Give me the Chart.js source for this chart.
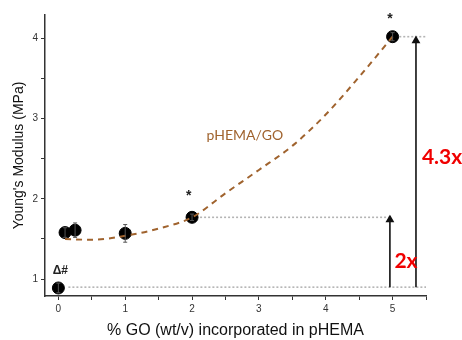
<!DOCTYPE html>
<html>
<head>
<meta charset="utf-8">
<script src="https://cdn.jsdelivr.net/npm/chart.js@4"></script>
<style>
  html, body { margin: 0; padding: 0; background: #fff; }
  #wrap { width: 462px; height: 340px; position: relative; }
</style>
</head>
<body>
<div id="wrap"><canvas id="modulusChart"></canvas></div>
<script>
// Datos medidos
const goPct = [0, 0.1, 0.25, 1, 2, 5];
const modulus = [0.89, 1.58, 1.61, 1.57, 1.77, 4.02];
const modulusErr = [0.06, 0.06, 0.09, 0.11, 0.04, 0.05];

// Curva de ajuste
const fitX = [0.1, 0.5, 1, 1.5, 2, 2.5, 3, 3.5, 4, 4.5, 5];
const fitY = [1.50, 1.49, 1.54, 1.63, 1.77, 2.07, 2.36, 2.66, 3.05, 3.52, 4.02];

// Líneas de referencia y flechas
const baseRefX = [0.15, 5.5];
const baseRefY = [0.9, 0.9];
const midRefX = [2.12, 4.96];
const midRefY = [1.77, 1.77];
const topRefX = [5.1, 5.5];
const topRefY = [4.02, 4.02];
const arrow2X = [4.96, 4.96];
const arrow2Y = [0.9, 1.74];
const arrow43X = [5.35, 5.35];
const arrow43Y = [0.9, 3.97];

// Etiquetas
const yTitle = "Young's Modulus (MPa)";
const notes = [
  { text: 'Δ#', x: 0.03, y: 1.11, color: '#222', font: 'bold 12px "Liberation Sans"' },
  { text: '*', x: 1.95, y: 2.03, color: '#222', font: 'bold 14px "Liberation Sans"' },
  { text: '*', x: 4.96, y: 4.24, color: '#222', font: 'bold 14px "Liberation Sans"' },
  { text: 'pHEMA/GO', x: 2.79, y: 2.79, color: '#a0632e', font: '14px Lato' },
  { text: '2x', x: 5.2, y: 1.22, color: '#f00000', font: 'bold 21px Lato' },
  { text: '4.3x', x: 5.74, y: 2.52, color: '#f00000', font: 'bold 21px Lato' }
];

const xTicks = [0, 0.5, 1, 1.5, 2, 2.5, 3, 3.5, 4, 4.5, 5, 5.5];
const yTicks = [1, 1.5, 2, 2.5, 3, 3.5, 4];

const toPts = (xs, ys) => xs.map((x, i) => ({ x, y: ys[i] }));

const refStyle = {
  type: 'line', borderColor: '#b4b4b4', borderWidth: 1.6, borderDash: [2, 2],
  pointRadius: 0, fill: false, order: 5
};

function arrowSet(xs, ys) {
  return {
    type: 'line',
    data: toPts(xs, ys),
    borderColor: '#111',
    borderWidth: 1.6,
    pointStyle: 'triangle',
    pointRadius: ctx => (ctx.dataIndex === 1 ? 3.5 : 0),
    pointBackgroundColor: '#111',
    pointBorderColor: '#111',
    fill: false,
    order: 4
  };
}

// Barras de error, textos y título del eje Y
const extrasPlugin = {
  id: 'extras',
  afterDatasetsDraw(chart) {
    const { ctx, chartArea, scales: { x, y } } = chart;
    ctx.save();
    ctx.strokeStyle = '#555';
    ctx.lineWidth = 1;
    goPct.forEach((gx, i) => {
      const px = x.getPixelForValue(gx);
      const top = y.getPixelForValue(modulus[i] + modulusErr[i]);
      const bot = y.getPixelForValue(modulus[i] - modulusErr[i]);
      ctx.beginPath();
      ctx.moveTo(px, top); ctx.lineTo(px, bot);
      ctx.moveTo(px - 2, top); ctx.lineTo(px + 2, top);
      ctx.moveTo(px - 2, bot); ctx.lineTo(px + 2, bot);
      ctx.stroke();
    });
    ctx.textAlign = 'center';
    ctx.textBaseline = 'middle';
    notes.forEach(n => {
      ctx.fillStyle = n.color;
      ctx.font = n.font;
      ctx.fillText(n.text, x.getPixelForValue(n.x), y.getPixelForValue(n.y));
    });

    // título vertical centrado en el área del gráfico
    ctx.translate(19, (chartArea.top + chartArea.bottom) / 2);
    ctx.rotate(-Math.PI / 2);
    ctx.fillStyle = '#111';
    ctx.font = '14px "Liberation Sans"';
    ctx.fillText(yTitle, 0, 0);
    ctx.restore();
  }
};

new Chart(document.getElementById('modulusChart'), {
  type: 'scatter',
  data: {
    datasets: [
      {
        type: 'scatter',
        data: toPts(goPct, modulus),
        pointRadius: 6,
        pointBackgroundColor: '#000',
        pointBorderColor: '#000',
        order: 1
      },
      {
        type: 'line',
        data: toPts(fitX, fitY),
        borderColor: '#a0632e',
        borderWidth: 2,
        borderDash: [6, 5],
        tension: 0.4,
        cubicInterpolationMode: 'monotone',
        pointRadius: 0,
        fill: false,
        order: 0
      },
      Object.assign({ data: toPts(baseRefX, baseRefY) }, refStyle),
      Object.assign({ data: toPts(midRefX, midRefY) }, refStyle),
      Object.assign({ data: toPts(topRefX, topRefY) }, refStyle),
      arrowSet(arrow2X, arrow2Y),
      arrowSet(arrow43X, arrow43Y)
    ]
  },
  options: {
    responsive: true,
    maintainAspectRatio: false,
    animation: false,
    layout: { padding: { top: 15, right: 36, left: 0, bottom: 0 } },
    plugins: { legend: { display: false }, tooltip: { enabled: false } },
    scales: {
      x: {
        type: 'linear',
        min: -0.2,
        max: 5.5,
        afterBuildTicks: s => { s.ticks = xTicks.map(v => ({ value: v })); },
        afterFit: s => { s.height = 44; },
        grid: { drawOnChartArea: false, drawTicks: true, tickLength: 4, color: '#333' },
        border: { color: '#333', width: 1.5 },
        ticks: {
          autoSkip: false, maxRotation: 0, padding: 3, color: '#333',
          font: { family: 'Liberation Sans', size: 10 },
          callback: v => (Number.isInteger(v) ? v : '')
        },
        title: {
          display: true, text: '% GO (wt/v) incorporated in pHEMA', color: '#111',
          font: { family: 'Liberation Sans', size: 16 }, padding: { top: 7, bottom: 0 }
        }
      },
      y: {
        type: 'linear',
        min: 0.79,
        max: 4.29,
        afterBuildTicks: s => { s.ticks = yTicks.map(v => ({ value: v })); },
        afterFit: s => { s.width = 45; },
        grid: { drawOnChartArea: false, drawTicks: true, tickLength: 4, color: '#333' },
        border: { color: '#333', width: 1.5 },
        ticks: {
          autoSkip: false, padding: 3, color: '#333',
          font: { family: 'Liberation Sans', size: 10 },
          callback: v => (Number.isInteger(v) ? v : '')
        },
        title: { display: false }
      }
    }
  },
  plugins: [extrasPlugin]
});
</script>
</body>
</html>
